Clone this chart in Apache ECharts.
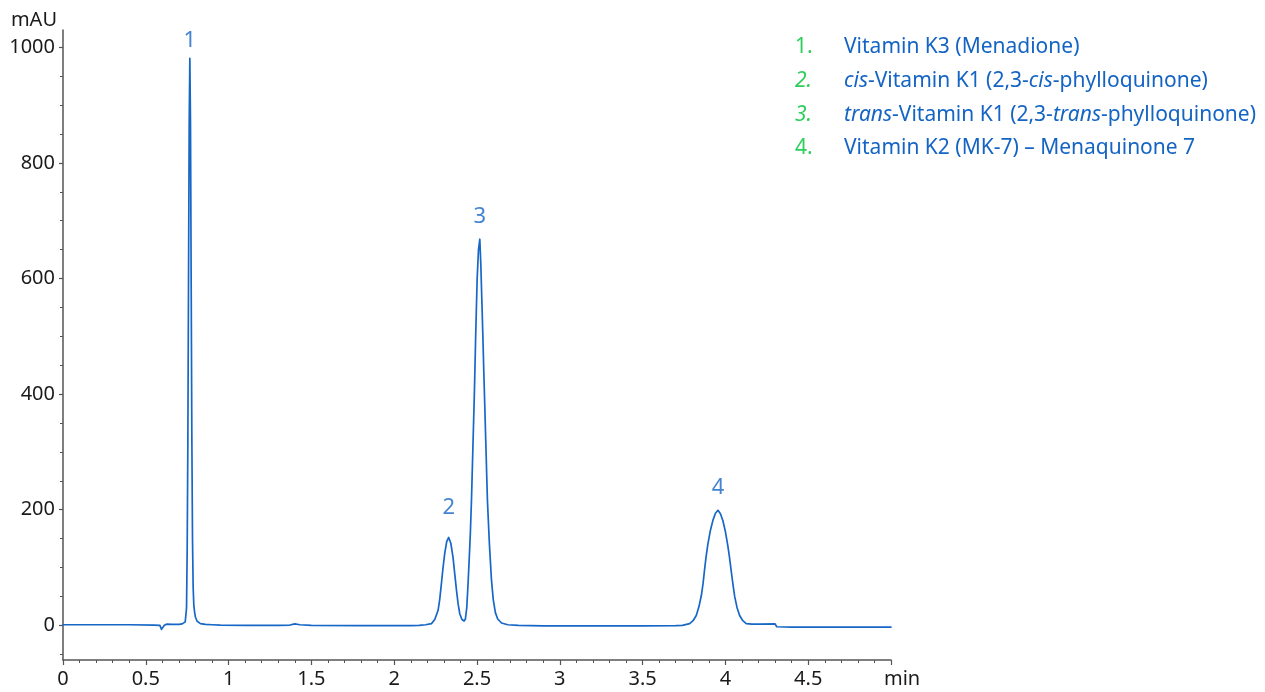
<!DOCTYPE html>
<html>
<head>
<meta charset="utf-8">
<script src="https://cdn.jsdelivr.net/npm/echarts@6/dist/echarts.min.js"></script>
<style>
  html, body { margin: 0; padding: 0; background: #ffffff; }
  #chart { width: 1265px; height: 692px; }
</style>
</head>
<body>
<div id="chart"></div>
<script>
// ---- data ----
const times = [
  0, 0.2, 0.4, 0.55, 0.585, 0.595, 0.600, 0.605, 0.612, 0.625, 0.66, 0.70, 0.72,
  0.730, 0.738, 0.742, 0.746, 0.750, 0.754, 0.758, 0.762, 0.766, 0.770, 0.774, 0.778,
  0.782, 0.786, 0.790, 0.795, 0.800, 0.810, 0.830, 0.860, 0.900, 0.95,
  1.1, 1.3, 1.37, 1.40, 1.43, 1.5, 1.8, 2.0, 2.1,
  2.150, 2.190, 2.225, 2.245, 2.265, 2.275, 2.285, 2.295, 2.305, 2.317, 2.329, 2.342,
  2.355, 2.366, 2.376, 2.386, 2.396, 2.409, 2.422, 2.430, 2.438, 2.446, 2.453, 2.460,
  2.467, 2.475, 2.484, 2.492, 2.501, 2.509, 2.517, 2.523, 2.529, 2.535, 2.541, 2.547,
  2.553, 2.558, 2.563, 2.575, 2.587, 2.598, 2.611, 2.625, 2.648, 2.686, 2.75,
  2.9, 3.2, 3.5, 3.70, 3.74, 3.784, 3.805, 3.824, 3.840, 3.855, 3.865, 3.874, 3.884,
  3.894, 3.910, 3.925, 3.940, 3.955, 3.970, 3.985, 4.000, 4.015, 4.025, 4.036, 4.046,
  4.056, 4.070, 4.086, 4.105, 4.126, 4.160, 4.206, 4.300, 4.310, 4.400, 5.0
];
const absorbance = [
  1, 1, 1, 0.5, 0, -7, -10, -4, 0, 2, 1.5, 1.5, 2.5,
  3.5, 6, 9, 30, 133, 319, 595, 866, 981, 866, 595, 330,
  150, 65, 35, 22, 14, 7, 3, 1.5, 1, 0.5,
  0, 0, 0.5, 2.5, 1, 0, -0.5, -0.5, -0.5,
  0, 1, 3, 10, 26, 45, 72, 100, 124, 145, 152, 142,
  118, 88, 61, 37, 20, 10, 7.5, 11, 30, 72, 115, 160,
  220, 305, 400, 500, 600, 650, 668, 625, 565, 505, 440, 380,
  318, 266, 216, 140, 80, 45, 22, 11, 4, 1, 0,
  -1, -1, -1, -0.5, 0, 3, 8, 17, 32, 52, 72, 96, 120,
  140, 165, 182, 194, 199, 193, 181, 162, 137, 117, 92, 70,
  50, 31, 17, 8, 3, 2, 2, 2.5, -2.5, -3, -3
];

const peakLabels = ['1', '2', '3', '4'];
const peakTimes = [0.766, 2.329, 2.517, 3.955];
const peakHeights = [981, 152, 668, 199];

const compoundNumbers = ['1.', '{i|2.}', '{i|3.}', '4.'];
const compoundNames = [
  'Vitamin K3 (Menadione)',
  '{i|cis}-Vitamin K1 (2,3-{i|cis}-phylloquinone)',
  '{i|trans}-Vitamin K1 (2,3-{i|trans}-phylloquinone)',
  'Vitamin K2 (MK-7) \u2013 Menaquinone 7'
];

const xLabelValues = [0, 0.5, 1, 1.5, 2, 2.5, 3, 3.5, 4, 4.5];
const xTickValues = [0, 0.5, 1, 1.5, 2, 2.5, 3, 3.5, 4, 4.5, 5];
const yLabelValues = [0, 200, 400, 600, 800, 1000];
const yMinorValues = [-50, 50, 100, 150, 250, 300, 350, 450, 500, 550, 650, 700, 750, 850, 900, 950];
const xAxisName = 'min';
const yAxisName = 'mAU';

// ---- styles ----
const FONT = '"Noto Sans", "DejaVu Sans", sans-serif';
const LINE_BLUE = '#1767c7';
const TEXT_BLUE = '#1464c4';
const NUM_GREEN = '#2fce5c';
const AXIS_COLOR = '#555555';
const LABEL_COLOR = '#1a1a1a';
const PEAK_LABEL_GAP = [7, 19, 11, 12];

const chart = echarts.init(document.getElementById('chart'), null, { renderer: 'canvas' });

const lineData = times.map((t, i) => [t, absorbance[i]]);
const peakData = peakTimes.map((t, i) => ({
  value: [t, peakHeights[i]],
  name: peakLabels[i],
  label: { distance: PEAK_LABEL_GAP[i] }
}));

const legendGraphics = [];
compoundNames.forEach((name, i) => {
  const cy = 47 + i * 33.8;
  legendGraphics.push({
    type: 'text', x: 795, y: cy, silent: true,
    style: {
      text: compoundNumbers[i], fill: NUM_GREEN, fontSize: 21, fontFamily: FONT,
      verticalAlign: 'middle', align: 'left',
      rich: { i: { fontStyle: 'italic', fontSize: 21, fontFamily: FONT, fill: NUM_GREEN } }
    }
  });
  legendGraphics.push({
    type: 'text', x: 844, y: cy, silent: true,
    style: {
      text: name, fill: TEXT_BLUE, fontSize: 21, fontFamily: FONT,
      verticalAlign: 'middle', align: 'left',
      rich: { i: { fontStyle: 'italic', fontSize: 21, fontFamily: FONT, fill: TEXT_BLUE } }
    }
  });
});

const option = {
  animation: false,
  backgroundColor: '#ffffff',
  textStyle: { fontFamily: FONT },
  grid: { left: 63, right: 374, top: 30, bottom: 32, containLabel: false, outerBoundsMode: 'none' },
  xAxis: {
    type: 'value',
    min: 0, max: 5, interval: 0.5,
    name: xAxisName,
    nameLocation: 'end',
    nameGap: -7,
    nameTextStyle: { color: LABEL_COLOR, fontSize: 20, fontFamily: FONT, align: 'left', verticalAlign: 'top', padding: [9, 0, 0, 0] },
    axisLine: { show: true, onZero: false, lineStyle: { color: AXIS_COLOR, width: 1.5 } },
    axisTick: { show: true, length: 5, inside: false, customValues: xTickValues, lineStyle: { color: AXIS_COLOR, width: 1.2 } },
    minorTick: { show: true, splitNumber: 5, length: 3, lineStyle: { color: AXIS_COLOR, width: 1 } },
    axisLabel: {
      color: LABEL_COLOR, fontSize: 20, fontFamily: FONT, margin: 9,
      customValues: xLabelValues,
      formatter: v => String(v)
    },
    splitLine: { show: false },
    minorSplitLine: { show: false }
  },
  yAxis: [
    {
      type: 'value',
      min: -60, max: 1030,
      name: yAxisName,
      nameLocation: 'end',
      nameGap: 0,
      nameTextStyle: { color: LABEL_COLOR, fontSize: 20, fontFamily: FONT, align: 'right', padding: [0, 6, 0, 0] },
      axisLine: { show: true, onZero: false, lineStyle: { color: AXIS_COLOR, width: 1.5 } },
      axisTick: { show: true, length: 4, customValues: yLabelValues, lineStyle: { color: AXIS_COLOR, width: 1.2 } },
      axisLabel: {
        color: LABEL_COLOR, fontSize: 20, fontFamily: FONT, margin: 8,
        customValues: yLabelValues,
        formatter: v => String(v)
      },
      splitLine: { show: false }
    },
    {
      type: 'value',
      min: -60, max: 1030,
      position: 'left',
      offset: 0,
      axisLine: { show: false },
      axisTick: { show: true, length: 3, customValues: yMinorValues, lineStyle: { color: AXIS_COLOR, width: 1 } },
      axisLabel: { show: false, customValues: yMinorValues },
      splitLine: { show: false }
    }
  ],
  series: [
    {
      type: 'line',
      data: lineData,
      showSymbol: false,
      symbol: 'none',
      smooth: false,
      lineStyle: { color: LINE_BLUE, width: 1.7, join: 'round', cap: 'round' },
      clip: true,
      silent: true,
      z: 3
    },
    {
      type: 'scatter',
      data: peakData,
      symbolSize: 0,
      silent: true,
      label: {
        show: true,
        position: 'top',
        distance: 12,
        formatter: p => p.name,
        color: TEXT_BLUE,
        fontSize: 22,
        fontFamily: FONT
      },
      z: 4
    }
  ],
  graphic: legendGraphics
};

chart.setOption(option);
</script>
</body>
</html>
